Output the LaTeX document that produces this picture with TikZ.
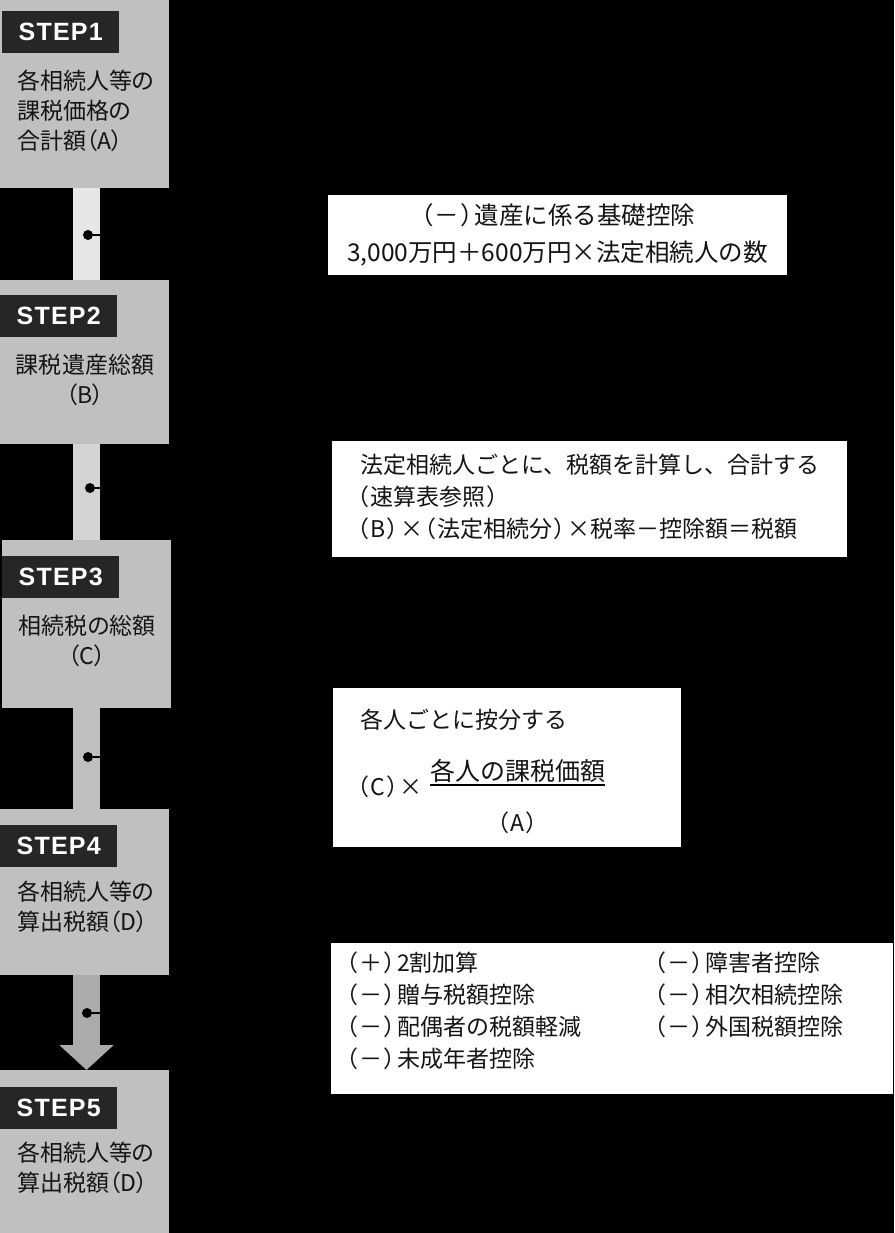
\documentclass[tikz,border=0pt]{standalone}
\usepackage{fontspec}
\setmainfont[RawFeature=+palt]{Noto Sans CJK JP}
\newfontfamily\notefont{Noto Sans CJK JP}
\newfontfamily\pfont[RawFeature=+palt]{Noto Sans CJK JP}
\newfontfamily\stepfont[LetterSpace=5]{Liberation Sans}
\newcommand\lp{\kern1pt{\pfont （}\kern2pt}
\newcommand\rp{\kern2pt{\pfont ）}\kern1pt}
\usetikzlibrary{arrows.meta,positioning,calc}
\definecolor{boxgray}{RGB}{192,192,192}
\definecolor{tagdark}{RGB}{38,38,38}
\definecolor{barA}{RGB}{230,230,230}
\definecolor{barB}{RGB}{212,212,212}
\definecolor{barC}{RGB}{192,192,192}
\definecolor{barD}{RGB}{171,171,171}
\definecolor{ink}{RGB}{20,20,20}
\tikzset{
  stepbox/.style={fill=boxgray, minimum width=169pt, inner sep=0pt, outer sep=0pt},
  tag/.style={fill=tagdark, text=white, minimum width=117pt, minimum height=42pt, inner sep=0pt,
    font=\stepfont\bfseries\fontsize{25}{26}\selectfont},
  txt/.style={text=ink, inner sep=0pt, align=left, font=\fontsize{23}{30}\selectfont},
  ctxt/.style={txt, align=center},
  note/.style={fill=white, inner sep=0pt, outer sep=0pt},
  ntxt/.style={txt, font=\notefont\fontsize{23}{32}\selectfont},
  dot/.style={circle, fill=black, minimum size=10pt, inner sep=0pt},
  link/.style={draw=black, line width=2pt},
  bigarrow/.style={draw=barD, line width=27pt, -{Triangle[width=53pt,length=25pt]}},
}
\begin{document}
\begin{tikzpicture}[x=1pt, y=-1pt]
  \fill[black] (0,0) rectangle (894,1233);
  \useasboundingbox (0,0) rectangle (894,1233);
  % steps
  \node[stepbox, minimum height=188pt] (s1) at (84.5,94) {};
  \node[stepbox, minimum height=164pt] (s2) at (84.5,362) {};
  \node[stepbox, minimum height=168pt] (s3) at (86.5,624) {};
  \node[stepbox, minimum height=166pt] (s4) at (84.5,892) {};
  \node[stepbox, minimum height=163pt] (s5) at (84.5,1151.5) {};
  \node[tag, anchor=north west] (l1) at ([shift={(2pt,-11pt)}]s1.north west) {STEP1};
  \node[tag, anchor=north west] (l2) at ([yshift=-15pt]s2.north west) {STEP2};
  \node[tag, anchor=north west] (l3) at ([yshift=-16pt]s3.north west) {STEP3};
  \node[tag, anchor=north west] (l4) at ([yshift=-16pt]s4.north west) {STEP4};
  \node[tag, anchor=north west] (l5) at ([yshift=-17pt]s5.north west) {STEP5};
  \node[txt, anchor=west] (t1) at (17,111) {各相続人等の\\課税価格の\\合計額（A）};
  \node[ctxt] (t2) at (85,380) {課税遺産総額\\（B）};
  \node[ctxt] (t3) at (87,641) {相続税の総額\\（C）};
  \node[txt, anchor=west] (t4) at (17,907) {各相続人等の\\算出税額（D）};
  \node[txt, anchor=west] (t5) at (17,1168) {各相続人等の\\算出税額（D）};
  % connectors
  \fill[barA] (s1.south -| 73,0) rectangle (s2.north -| 100,0);
  \fill[barB] (s2.south -| 73,0) rectangle (s3.north -| 100,0);
  \fill[barC] (s3.south -| 73,0) rectangle (s4.north -| 100,0);
  \draw[bigarrow] (s4.south -| 86.5,0) -- (s5.north -| 86.5,0);
  % notes
  \node[note, minimum width=459pt, minimum height=80pt] (n1) at (557.5,235) {};
  \node[note, minimum width=515pt, minimum height=116pt] (n2) at (589.5,499) {};
  \node[note, minimum width=348pt, minimum height=159pt] (n3) at (507,767.5) {};
  \node[note, minimum width=562pt, minimum height=151pt] (n4) at (612,1018.5) {};
  \node[ntxt, align=center, font=\notefont\fontsize{24.5}{37}\selectfont] at (n1) {\lp－\rp 遺産に係る基礎控除\\3,000万円＋600万円×法定相続人の数};
  \node[ntxt, anchor=west] at (356,497) {\,法定相続人ごとに、税額を計算し、合計する\\\lp 速算表参照\rp\\\lp B\rp ×\lp 法定相続分\rp ×税率－控除額＝税額};
  \node[ntxt, anchor=west] (m1) at (360,720) {各人ごとに按分する};
  \node[ntxt, anchor=west] (m2) at (356,787) {\lp C\rp ×};
  \node[ntxt, anchor=south west, font=\notefont\fontsize{25}{30}\selectfont] (num) at (430,783) {各人の課税価額};
  \draw[line width=2pt] ([yshift=-2pt]num.south west) -- ([yshift=-2pt]num.south east);
  \node[ntxt] (den) at (num.south |- 0,823) {\lp A\rp};
  \node[ntxt, anchor=north west] (n4a) at (345,952) {\lp ＋\rp 2割加算\\\lp －\rp 贈与税額控除\\\lp －\rp 配偶者の税額軽減\\\lp －\rp 未成年者控除};
  \node[ntxt, anchor=north west] (n4b) at (n4a.north -| 653,0) {\lp －\rp 障害者控除\\\lp －\rp 相次相続控除\\\lp －\rp 外国税額控除};
  % dots
  \node[dot] (d1) at (88,235) {};
  \node[dot] (d2) at (90,488) {};
  \node[dot] (d3) at (88,757) {};
  \node[dot] (d4) at (87,1013) {};
  \draw[link] (d1) -- (d1 -| n1.west);
  \draw[link] (d2) -- (d2 -| n2.west);
  \draw[link] (d3) -- (d3 -| n3.west);
  \draw[link] (d4) -- (d4 -| n4.west);
\end{tikzpicture}
\end{document}
